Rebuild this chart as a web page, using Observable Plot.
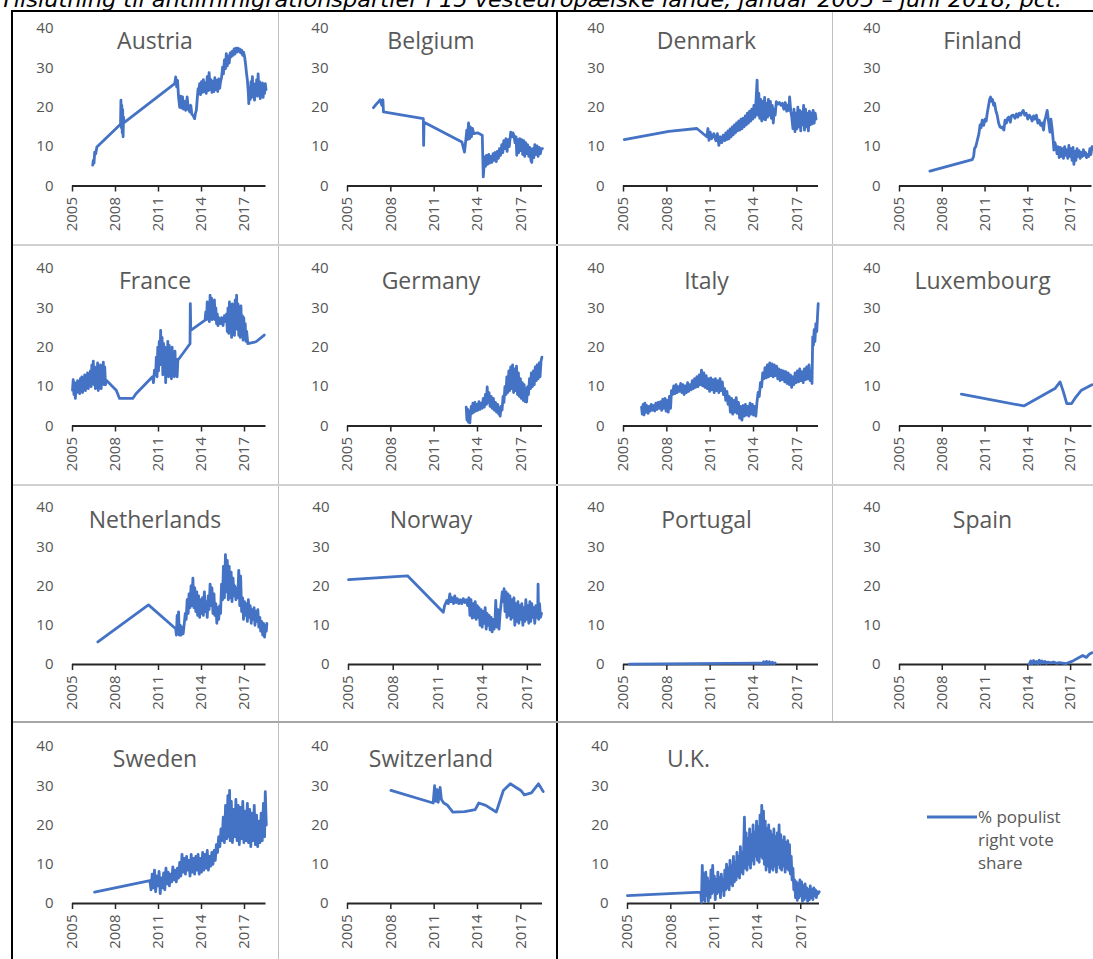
<!DOCTYPE html>
<html><head><meta charset="utf-8">
<script src="https://cdn.jsdelivr.net/npm/d3@7"></script>
<script src="https://cdn.jsdelivr.net/npm/@observablehq/plot@0.6"></script>
<style>
html,body{margin:0;padding:0;background:#fff;}
#wrap{position:relative;width:1093px;height:959px;overflow:hidden;background:#fff;font-family:"Open Sans",sans-serif;}
.ln{position:absolute;}
.panel{position:absolute;}
.panel svg{overflow:visible;}
</style></head><body><div id="wrap"></div>
<script>
const titleText = "Tilslutning til antiimmigrationspartier i 15 vesteuropæiske lande, januar 2005 – juni 2018, pct.";
const legendLines = ["% populist", "right vote", "share"];
const yearTicks = [2005, 2008, 2011, 2014, 2017];
const valueTicks = [0, 10, 20, 30, 40];
const countries = ["Austria","Belgium","Denmark","Finland","France","Germany","Italy","Luxembourg","Netherlands","Norway","Portugal","Spain","Sweden","Switzerland","U.K."];

const austria = [[2006.41,5.3],[2006.45,6.5],[2006.5,5.8],[2006.55,8.6],[2006.62,8.2],[2006.7,9.9],[2008.35,15.7],[2008.38,21.8],[2008.41,14.8],[2008.44,20.5],[2008.47,13.5],[2008.5,19.4],[2008.53,12.5],[2008.56,17.5],[2008.6,16.1],[2012.13,26.0],[2012.2,27.7],[2012.27,25.2],[2012.33,26.8],[2012.4,22.5],[2012.48,20.0],[2012.55,22.8],[2012.62,19.8],[2012.68,22.6],[2012.75,19.5],[2012.83,21.5],[2012.9,19.2],[2013.0,22.6],[2013.08,19.5],[2013.18,18.8],[2013.25,20.5],[2013.33,18.2],[2013.41,18.0],[2013.47,17.5],[2013.52,17.1],[2013.58,18.5],[2013.64,19.2],[2013.7,22.0],[2013.76,24.7],[2013.8,23.5],[2013.87,26.0],[2013.93,23.2],[2014.0,26.5],[2014.07,23.8],[2014.13,27.0],[2014.2,24.0],[2014.27,26.2],[2014.33,23.5],[2014.4,27.8],[2014.47,24.2],[2014.53,28.8],[2014.6,24.5],[2014.67,27.0],[2014.73,23.8],[2014.8,26.5],[2014.87,24.0],[2014.93,27.5],[2015.0,24.5],[2015.07,26.8],[2015.13,24.0],[2015.2,27.2],[2015.27,24.8],[2015.33,26.5],[2015.4,27.5],[2015.47,30.2],[2015.53,28.5],[2015.6,32.0],[2015.67,29.8],[2015.73,33.6],[2015.8,30.5],[2015.87,33.0],[2015.93,31.2],[2016.0,33.8],[2016.07,32.8],[2016.13,34.2],[2016.2,33.2],[2016.27,34.8],[2016.33,33.5],[2016.4,35.0],[2016.47,34.0],[2016.53,35.0],[2016.6,34.2],[2016.67,34.8],[2016.73,33.8],[2016.8,34.5],[2016.87,33.2],[2016.93,34.0],[2017.0,33.0],[2017.07,31.1],[2017.13,29.0],[2017.2,26.9],[2017.27,23.5],[2017.3,20.9],[2017.35,24.5],[2017.4,22.0],[2017.45,26.5],[2017.5,22.5],[2017.55,27.8],[2017.6,23.0],[2017.65,26.0],[2017.7,21.8],[2017.75,25.5],[2017.8,23.2],[2017.85,27.0],[2017.9,22.8],[2017.95,28.5],[2018.0,23.5],[2018.05,26.5],[2018.1,22.2],[2018.15,25.8],[2018.2,23.0],[2018.25,26.2],[2018.3,22.5],[2018.35,25.0],[2018.4,23.5],[2018.45,26.0],[2018.5,24.5]];

const belgium = [[2006.8,19.9],[2006.95,20.6],[2007.15,21.4],[2007.26,21.9],[2007.38,20.5],[2007.45,21.9],[2007.49,18.8],[2010.25,17.1],[2010.27,10.3],[2010.3,16.2],[2012.92,11.2],[2013.1,8.6],[2013.2,12.0],[2013.26,14.2],[2013.3,11.8],[2013.38,16.0],[2013.45,12.0],[2013.5,15.0],[2013.58,12.5],[2013.65,14.6],[2013.75,13.3],[2014.0,13.5],[2014.33,12.9],[2014.4,2.3],[2014.45,4.8],[2014.5,7.4],[2014.55,5.0],[2014.62,7.8],[2014.7,5.5],[2014.78,8.0],[2014.85,5.8],[2014.92,7.5],[2015.0,6.0],[2015.08,8.2],[2015.15,6.5],[2015.22,8.5],[2015.3,6.2],[2015.37,8.8],[2015.45,7.0],[2015.52,9.5],[2015.6,7.8],[2015.68,10.5],[2015.75,8.5],[2015.82,11.5],[2015.9,9.5],[2015.97,12.0],[2016.05,8.8],[2016.12,11.8],[2016.2,10.0],[2016.3,13.7],[2016.38,12.5],[2016.45,13.5],[2016.52,12.9],[2016.6,11.0],[2016.67,12.5],[2016.72,7.8],[2016.78,11.8],[2016.85,8.5],[2016.92,12.0],[2017.0,9.0],[2017.07,11.8],[2017.13,8.0],[2017.2,11.5],[2017.27,7.5],[2017.33,11.0],[2017.4,8.2],[2017.47,10.5],[2017.55,7.5],[2017.62,9.8],[2017.7,6.5],[2017.76,6.0],[2017.82,9.5],[2017.9,7.2],[2017.97,10.5],[2018.05,8.0],[2018.12,10.2],[2018.2,7.5],[2018.27,9.8],[2018.35,8.2],[2018.42,9.5],[2018.5,9.5]];

const denmark = [[2005.05,11.8],[2008.14,13.9],[2010.08,14.6],[2010.77,12.5],[2010.85,14.6],[2010.92,11.6],[2011.0,13.7],[2011.1,12.0],[2011.25,13.3],[2011.4,11.5],[2011.5,13.3],[2011.6,10.3],[2011.7,12.5],[2011.8,11.0],[2011.9,12.9],[2012.0,11.5],[2012.08,13.5],[2012.15,11.8],[2012.23,14.0],[2012.3,12.0],[2012.38,14.5],[2012.45,12.5],[2012.53,15.0],[2012.6,13.0],[2012.68,15.5],[2012.75,13.5],[2012.83,16.0],[2012.9,14.0],[2012.98,16.5],[2013.05,14.2],[2013.13,17.0],[2013.2,14.5],[2013.28,17.2],[2013.35,15.0],[2013.43,17.8],[2013.5,15.5],[2013.58,18.5],[2013.65,16.0],[2013.73,19.0],[2013.8,16.5],[2013.88,19.5],[2013.95,17.0],[2014.03,20.5],[2014.1,17.5],[2014.18,22.0],[2014.25,26.9],[2014.3,18.0],[2014.37,23.5],[2014.43,17.2],[2014.5,22.0],[2014.57,16.5],[2014.63,21.5],[2014.7,17.0],[2014.77,22.5],[2014.83,16.8],[2014.9,21.0],[2014.97,17.5],[2015.03,22.0],[2015.1,18.0],[2015.17,21.5],[2015.23,17.2],[2015.3,20.5],[2015.37,16.0],[2015.43,19.5],[2015.5,18.0],[2015.58,21.4],[2015.7,20.8],[2015.8,21.2],[2015.9,20.5],[2016.0,21.0],[2016.1,19.5],[2016.2,21.2],[2016.3,19.0],[2016.38,20.5],[2016.45,19.2],[2016.5,22.6],[2016.58,19.0],[2016.65,17.5],[2016.73,14.6],[2016.8,19.5],[2016.87,13.8],[2016.93,18.5],[2017.0,14.5],[2017.07,20.0],[2017.13,15.0],[2017.2,19.2],[2017.27,14.0],[2017.33,18.8],[2017.4,15.5],[2017.47,20.5],[2017.53,14.2],[2017.6,19.5],[2017.67,15.0],[2017.73,18.5],[2017.8,14.0],[2017.87,19.0],[2017.93,15.5],[2018.0,18.5],[2018.07,15.8],[2018.13,19.2],[2018.2,16.0],[2018.27,18.5],[2018.33,17.0]];

const finland = [[2007.13,3.8],[2010.1,6.7],[2010.2,7.5],[2010.26,9.5],[2010.35,10.0],[2010.45,11.5],[2010.57,13.3],[2010.65,15.5],[2010.72,14.8],[2010.8,16.7],[2010.9,15.4],[2011.0,17.0],[2011.08,16.5],[2011.15,18.4],[2011.25,20.5],[2011.32,22.0],[2011.39,22.6],[2011.45,21.5],[2011.52,22.0],[2011.6,20.5],[2011.67,21.0],[2011.75,19.2],[2011.85,18.0],[2011.95,16.0],[2012.05,15.0],[2012.15,14.8],[2012.2,15.0],[2012.32,14.2],[2012.4,16.7],[2012.5,16.0],[2012.58,17.2],[2012.67,17.5],[2012.77,16.2],[2012.85,17.8],[2012.98,18.0],[2013.1,17.2],[2013.2,18.3],[2013.3,17.5],[2013.4,18.5],[2013.5,18.0],[2013.6,18.8],[2013.68,19.2],[2013.78,18.0],[2013.88,18.5],[2014.0,17.0],[2014.1,18.0],[2014.2,17.5],[2014.3,16.5],[2014.4,17.8],[2014.5,17.0],[2014.6,18.0],[2014.7,16.0],[2014.8,16.7],[2014.9,15.4],[2015.0,16.0],[2015.1,14.2],[2015.17,16.5],[2015.25,17.5],[2015.36,19.2],[2015.45,16.5],[2015.55,13.7],[2015.62,17.0],[2015.7,14.6],[2015.77,12.0],[2015.83,9.1],[2015.9,11.0],[2016.0,9.5],[2016.05,8.2],[2016.12,10.0],[2016.2,7.2],[2016.28,9.8],[2016.35,7.5],[2016.43,9.5],[2016.5,7.0],[2016.58,10.0],[2016.65,7.8],[2016.73,9.2],[2016.8,7.0],[2016.88,10.3],[2016.95,7.5],[2017.03,9.5],[2017.1,6.5],[2017.17,9.8],[2017.23,5.5],[2017.3,8.8],[2017.37,6.5],[2017.45,9.5],[2017.52,7.5],[2017.6,9.0],[2017.67,7.0],[2017.75,8.5],[2017.82,7.5],[2017.9,9.2],[2017.97,7.8],[2018.05,8.5],[2018.12,7.2],[2018.2,8.0],[2018.27,7.5],[2018.35,9.5],[2018.42,8.0],[2018.5,10.0]];

const france = [[2005.0,9.1],[2005.05,11.8],[2005.1,8.0],[2005.15,11.0],[2005.2,7.0],[2005.25,10.5],[2005.3,8.5],[2005.35,11.5],[2005.4,9.0],[2005.45,10.0],[2005.5,8.2],[2005.55,12.0],[2005.6,9.5],[2005.65,12.5],[2005.7,8.5],[2005.75,11.8],[2005.8,10.0],[2005.85,13.0],[2005.9,9.0],[2005.95,12.5],[2006.0,10.0],[2006.05,13.5],[2006.1,9.5],[2006.15,12.8],[2006.2,10.5],[2006.25,14.0],[2006.3,10.0],[2006.35,15.5],[2006.4,11.0],[2006.45,16.5],[2006.5,10.5],[2006.55,15.0],[2006.6,9.5],[2006.65,14.0],[2006.7,10.0],[2006.75,16.0],[2006.8,9.0],[2006.85,13.5],[2006.9,10.5],[2006.95,15.5],[2007.0,9.5],[2007.05,14.0],[2007.1,11.0],[2007.15,16.2],[2007.2,10.5],[2007.25,15.0],[2007.3,10.5],[2007.36,11.6],[2008.05,9.1],[2008.28,7.0],[2009.2,7.0],[2009.43,8.2],[2010.58,12.5],[2010.65,11.0],[2010.72,14.2],[2010.8,13.0],[2010.85,17.5],[2010.9,12.5],[2010.95,20.0],[2011.0,14.0],[2011.05,21.5],[2011.1,15.5],[2011.15,24.3],[2011.2,16.0],[2011.25,22.5],[2011.3,13.0],[2011.35,21.0],[2011.4,15.0],[2011.45,20.0],[2011.5,11.0],[2011.55,19.5],[2011.6,14.5],[2011.65,21.5],[2011.7,12.5],[2011.75,20.5],[2011.8,15.0],[2011.85,18.5],[2011.9,12.0],[2011.95,20.0],[2012.0,14.0],[2012.05,17.5],[2012.1,12.5],[2012.15,19.0],[2012.2,13.5],[2012.25,17.0],[2012.3,12.5],[2012.35,16.7],[2013.2,20.9],[2013.22,31.1],[2013.25,24.3],[2014.25,26.9],[2014.3,29.0],[2014.35,27.0],[2014.4,31.5],[2014.45,27.5],[2014.5,30.0],[2014.55,26.5],[2014.6,33.2],[2014.65,28.0],[2014.7,32.5],[2014.75,27.0],[2014.8,31.0],[2014.85,28.5],[2014.9,32.0],[2014.95,27.0],[2015.0,30.0],[2015.05,26.0],[2015.1,28.5],[2015.15,25.5],[2015.2,27.5],[2015.3,26.0],[2015.4,27.5],[2015.5,25.5],[2015.6,28.0],[2015.7,26.5],[2015.75,28.5],[2015.8,24.0],[2015.85,30.0],[2015.9,23.5],[2015.95,31.5],[2016.0,25.0],[2016.05,29.5],[2016.1,22.5],[2016.15,31.0],[2016.2,24.0],[2016.25,30.0],[2016.3,23.0],[2016.35,32.0],[2016.4,25.0],[2016.45,33.2],[2016.5,24.5],[2016.55,31.0],[2016.6,23.0],[2016.65,29.0],[2016.7,22.5],[2016.75,30.5],[2016.8,24.0],[2016.85,28.0],[2016.9,21.8],[2016.95,27.5],[2017.0,22.5],[2017.05,26.0],[2017.1,21.5],[2017.15,24.0],[2017.23,20.9],[2017.8,21.4],[2018.38,23.1]];

const germany = [[2013.22,4.8],[2013.27,1.5],[2013.32,4.2],[2013.37,1.0],[2013.42,3.8],[2013.47,0.8],[2013.52,3.5],[2013.57,5.0],[2013.62,3.2],[2013.68,5.8],[2013.75,3.5],[2013.82,6.0],[2013.88,3.8],[2013.95,5.5],[2014.02,4.0],[2014.1,6.2],[2014.17,4.2],[2014.25,5.8],[2014.32,4.5],[2014.4,7.0],[2014.47,4.8],[2014.55,8.0],[2014.62,5.5],[2014.67,9.9],[2014.72,6.0],[2014.8,8.5],[2014.87,5.0],[2014.95,7.5],[2015.02,4.5],[2015.1,7.0],[2015.17,4.0],[2015.25,6.0],[2015.32,3.5],[2015.4,5.5],[2015.47,3.0],[2015.53,4.5],[2015.57,2.5],[2015.63,5.0],[2015.7,4.0],[2015.77,7.5],[2015.83,6.0],[2015.9,10.0],[2015.97,8.0],[2016.03,12.5],[2016.1,8.5],[2016.17,14.0],[2016.23,9.0],[2016.3,15.0],[2016.37,9.5],[2016.43,15.5],[2016.5,8.5],[2016.57,14.5],[2016.63,9.0],[2016.7,15.2],[2016.77,8.0],[2016.83,13.5],[2016.9,7.5],[2016.97,12.0],[2017.03,7.0],[2017.1,11.0],[2017.17,6.5],[2017.23,10.5],[2017.3,6.2],[2017.37,9.5],[2017.4,6.1],[2017.47,10.0],[2017.53,8.0],[2017.6,12.0],[2017.67,9.5],[2017.73,13.5],[2017.8,10.0],[2017.87,14.0],[2017.93,10.5],[2018.0,15.0],[2018.07,11.5],[2018.13,15.5],[2018.2,12.0],[2018.27,16.0],[2018.33,12.5],[2018.4,16.5],[2018.46,17.5]];

const italy = [[2006.25,4.8],[2006.3,3.0],[2006.36,5.5],[2006.42,2.8],[2006.48,5.8],[2006.55,3.5],[2006.62,5.2],[2006.7,3.2],[2006.78,5.0],[2006.85,3.8],[2006.92,5.5],[2007.0,4.0],[2007.08,5.2],[2007.16,3.8],[2007.24,5.8],[2007.32,4.2],[2007.4,6.0],[2007.48,4.5],[2007.56,6.2],[2007.64,4.0],[2007.72,6.8],[2007.8,4.5],[2007.88,7.0],[2007.95,3.8],[2008.03,6.5],[2008.1,3.5],[2008.18,7.5],[2008.26,4.5],[2008.32,9.0],[2008.4,8.0],[2008.48,10.2],[2008.56,8.2],[2008.64,10.5],[2008.72,8.5],[2008.8,10.0],[2008.88,8.8],[2008.96,10.8],[2009.04,8.5],[2009.12,10.5],[2009.2,8.0],[2009.28,10.2],[2009.36,8.5],[2009.44,11.0],[2009.52,8.8],[2009.6,10.5],[2009.68,9.2],[2009.76,11.5],[2009.84,9.5],[2009.92,12.0],[2010.0,9.8],[2010.08,12.5],[2010.16,10.0],[2010.24,13.0],[2010.32,10.5],[2010.4,14.2],[2010.48,10.2],[2010.56,13.5],[2010.64,9.8],[2010.72,12.8],[2010.8,9.5],[2010.88,12.0],[2010.96,8.8],[2011.04,12.2],[2011.12,9.2],[2011.2,11.8],[2011.28,8.5],[2011.36,12.0],[2011.44,9.0],[2011.52,11.5],[2011.6,8.5],[2011.68,12.0],[2011.76,9.0],[2011.84,11.2],[2011.92,8.0],[2012.0,9.5],[2012.08,6.5],[2012.16,8.8],[2012.24,5.5],[2012.32,7.5],[2012.4,3.5],[2012.48,7.0],[2012.56,3.0],[2012.64,6.5],[2012.72,3.5],[2012.8,7.2],[2012.88,3.2],[2012.96,6.0],[2013.04,2.0],[2013.12,5.0],[2013.2,1.5],[2013.28,5.2],[2013.36,2.5],[2013.44,5.5],[2013.52,2.8],[2013.6,5.0],[2013.68,2.5],[2013.76,5.8],[2013.84,3.0],[2013.92,5.5],[2014.0,2.8],[2014.08,5.0],[2014.16,2.5],[2014.24,6.0],[2014.32,8.5],[2014.4,7.5],[2014.48,11.0],[2014.56,9.9],[2014.64,13.5],[2014.72,12.0],[2014.8,14.8],[2014.88,12.2],[2014.96,15.5],[2015.04,12.5],[2015.12,16.0],[2015.2,12.8],[2015.28,15.8],[2015.36,12.5],[2015.44,15.5],[2015.52,12.8],[2015.6,15.2],[2015.68,12.0],[2015.76,14.5],[2015.84,11.5],[2015.92,14.2],[2016.0,11.8],[2016.08,14.0],[2016.16,11.2],[2016.24,13.8],[2016.32,10.8],[2016.4,13.5],[2016.48,10.5],[2016.56,13.0],[2016.64,9.8],[2016.72,12.5],[2016.8,10.5],[2016.88,13.5],[2016.96,11.0],[2017.04,14.0],[2017.12,11.2],[2017.2,14.5],[2017.28,11.5],[2017.36,13.8],[2017.44,11.0],[2017.52,14.5],[2017.6,11.8],[2017.68,15.0],[2017.76,12.0],[2017.84,15.5],[2017.92,11.5],[2018.0,14.0],[2018.05,10.8],[2018.1,22.6],[2018.15,20.5],[2018.2,24.5],[2018.25,21.5],[2018.32,26.0],[2018.38,24.0],[2018.44,28.5],[2018.48,31.1]];

const luxembourg = [[2009.34,8.1],[2013.72,5.1],[2015.9,9.5],[2016.26,11.2],[2016.5,8.6],[2016.73,5.7],[2017.07,5.7],[2017.3,7.0],[2017.76,9.1],[2018.5,10.5]];

const netherlands = [[2006.77,5.75],[2010.3,15.2],[2012.2,9.1],[2012.25,7.5],[2012.3,12.5],[2012.35,8.0],[2012.4,13.4],[2012.45,7.5],[2012.52,10.0],[2012.58,7.5],[2012.65,9.5],[2012.72,7.8],[2012.8,10.5],[2012.87,13.0],[2012.93,11.5],[2013.0,16.5],[2013.07,13.0],[2013.13,18.0],[2013.2,14.5],[2013.27,20.0],[2013.33,15.0],[2013.4,22.0],[2013.47,14.5],[2013.53,19.5],[2013.6,13.5],[2013.67,18.5],[2013.73,12.5],[2013.8,17.5],[2013.87,12.0],[2013.93,16.5],[2014.0,13.0],[2014.07,17.0],[2014.13,12.5],[2014.2,18.5],[2014.27,13.5],[2014.33,16.0],[2014.4,12.0],[2014.47,17.5],[2014.53,14.0],[2014.6,20.5],[2014.67,15.0],[2014.73,19.5],[2014.8,13.0],[2014.87,18.0],[2014.93,12.5],[2015.0,15.5],[2015.07,10.5],[2015.13,14.5],[2015.2,11.5],[2015.27,15.0],[2015.33,13.0],[2015.4,20.5],[2015.47,16.5],[2015.53,25.0],[2015.6,17.0],[2015.67,28.0],[2015.73,18.5],[2015.8,26.5],[2015.87,16.5],[2015.93,25.0],[2016.0,17.0],[2016.07,23.5],[2016.13,16.0],[2016.2,22.0],[2016.27,17.5],[2016.33,20.0],[2016.4,16.5],[2016.47,19.5],[2016.53,17.0],[2016.6,24.0],[2016.67,15.0],[2016.73,22.5],[2016.8,13.5],[2016.87,17.0],[2016.93,11.5],[2017.0,16.0],[2017.07,12.5],[2017.13,15.5],[2017.2,11.0],[2017.27,16.5],[2017.33,12.0],[2017.4,15.0],[2017.47,10.5],[2017.53,14.0],[2017.6,11.5],[2017.67,14.5],[2017.73,10.0],[2017.8,13.5],[2017.87,11.0],[2017.93,14.0],[2018.0,9.5],[2018.07,12.0],[2018.13,8.5],[2018.2,11.0],[2018.27,7.5],[2018.33,10.5],[2018.4,7.0],[2018.47,10.0],[2018.52,8.5],[2018.56,10.5]];

const norway = [[2005.0,21.6],[2008.96,22.6],[2011.36,13.3],[2011.45,15.0],[2011.6,16.3],[2011.7,15.5],[2011.8,18.0],[2011.88,16.0],[2011.96,17.0],[2012.05,15.5],[2012.13,17.5],[2012.22,15.8],[2012.3,16.8],[2012.4,15.5],[2012.5,16.5],[2012.6,15.5],[2012.7,16.8],[2012.8,15.8],[2012.9,16.5],[2013.0,15.0],[2013.08,17.0],[2013.15,12.5],[2013.22,16.5],[2013.3,11.8],[2013.37,15.5],[2013.44,12.0],[2013.5,16.0],[2013.57,11.5],[2013.64,15.0],[2013.7,12.0],[2013.76,14.5],[2013.83,10.0],[2013.9,14.0],[2013.97,9.5],[2014.04,13.5],[2014.1,10.5],[2014.17,14.5],[2014.24,9.0],[2014.3,13.0],[2014.37,10.0],[2014.44,12.5],[2014.5,8.8],[2014.57,12.0],[2014.64,8.3],[2014.7,11.5],[2014.77,9.0],[2014.84,12.0],[2014.88,16.3],[2014.95,9.5],[2015.02,14.0],[2015.1,9.0],[2015.17,13.0],[2015.24,15.5],[2015.32,18.5],[2015.38,16.0],[2015.44,19.3],[2015.5,13.5],[2015.57,18.5],[2015.63,12.0],[2015.7,18.0],[2015.77,12.5],[2015.83,17.5],[2015.9,11.5],[2015.97,16.5],[2016.03,12.0],[2016.1,17.0],[2016.16,10.0],[2016.23,15.5],[2016.3,11.0],[2016.37,16.0],[2016.43,10.5],[2016.5,15.0],[2016.57,11.5],[2016.63,15.5],[2016.7,10.0],[2016.77,14.5],[2016.83,11.0],[2016.9,16.5],[2016.97,11.5],[2017.03,15.0],[2017.1,10.5],[2017.17,16.0],[2017.23,11.0],[2017.3,15.5],[2017.37,12.0],[2017.43,14.5],[2017.5,10.5],[2017.57,15.0],[2017.63,12.0],[2017.7,14.0],[2017.72,20.5],[2017.76,11.5],[2017.82,15.5],[2017.88,12.0],[2017.95,13.0]];

const portugal = [[2005.4,0.1],[2014.5,0.35],[2014.6,0.1],[2014.7,0.7],[2014.8,0.1],[2014.9,0.8],[2015.0,0.1],[2015.1,0.7],[2015.2,0.2],[2015.3,0.6],[2015.4,0.2],[2015.5,0.4]];

const spain = [[2014.1,0.1],[2014.2,0.9],[2014.3,0.2],[2014.4,1.0],[2014.5,0.3],[2014.6,0.8],[2014.7,0.2],[2014.8,1.1],[2014.9,0.3],[2015.0,0.9],[2015.1,0.4],[2015.2,0.8],[2015.3,0.3],[2015.4,0.6],[2015.6,0.4],[2015.8,0.6],[2016.0,0.3],[2016.2,0.5],[2016.65,0.2],[2017.1,0.8],[2017.5,1.6],[2017.85,2.3],[2018.1,1.8],[2018.3,2.6],[2018.5,3.0]];

const sweden = [[2006.54,2.9],[2010.4,5.8],[2010.48,3.5],[2010.56,7.5],[2010.64,4.0],[2010.72,8.5],[2010.8,3.0],[2010.88,7.0],[2010.96,4.5],[2011.04,8.2],[2011.12,2.5],[2011.2,6.5],[2011.28,4.0],[2011.36,7.8],[2011.44,3.5],[2011.52,9.0],[2011.6,5.0],[2011.68,8.0],[2011.76,4.5],[2011.84,7.5],[2011.92,5.5],[2012.0,9.3],[2012.08,6.0],[2012.16,8.5],[2012.24,5.5],[2012.32,9.0],[2012.4,6.5],[2012.48,10.5],[2012.56,7.0],[2012.64,12.5],[2012.72,8.0],[2012.8,11.5],[2012.88,7.5],[2012.96,12.0],[2013.04,8.5],[2013.12,11.0],[2013.2,7.0],[2013.28,12.5],[2013.36,8.0],[2013.44,11.5],[2013.52,7.5],[2013.6,12.0],[2013.68,8.5],[2013.76,12.5],[2013.84,7.5],[2013.92,11.5],[2014.0,8.0],[2014.08,13.0],[2014.16,8.5],[2014.24,12.5],[2014.32,9.0],[2014.4,13.5],[2014.48,8.5],[2014.56,12.0],[2014.64,9.5],[2014.72,13.0],[2014.8,10.0],[2014.88,13.5],[2014.96,11.0],[2015.04,15.0],[2015.12,13.0],[2015.2,17.0],[2015.28,14.5],[2015.36,19.0],[2015.44,16.0],[2015.52,22.0],[2015.6,15.5],[2015.68,25.0],[2015.76,16.5],[2015.84,27.5],[2015.92,17.0],[2015.96,28.8],[2016.0,16.0],[2016.08,26.0],[2016.16,15.5],[2016.24,24.0],[2016.32,17.0],[2016.4,26.5],[2016.48,16.0],[2016.56,25.0],[2016.64,15.0],[2016.72,24.5],[2016.8,16.5],[2016.88,26.0],[2016.96,15.5],[2017.04,23.5],[2017.12,16.0],[2017.2,25.5],[2017.28,15.5],[2017.36,24.0],[2017.44,14.5],[2017.52,23.0],[2017.6,16.0],[2017.68,25.0],[2017.76,15.0],[2017.84,22.5],[2017.92,14.5],[2018.0,21.0],[2018.08,15.5],[2018.16,23.0],[2018.24,16.0],[2018.32,25.5],[2018.4,17.0],[2018.45,28.5],[2018.52,20.0]];

const switzerland = [[2008.01,28.8],[2010.93,25.6],[2011.03,30.0],[2011.12,26.0],[2011.2,29.0],[2011.28,25.8],[2011.41,29.6],[2011.5,26.5],[2011.66,25.6],[2011.9,25.1],[2012.29,23.3],[2013.11,23.4],[2013.84,23.9],[2014.09,25.6],[2014.57,25.0],[2015.3,23.3],[2015.79,28.8],[2016.27,30.5],[2017.0,28.8],[2017.24,27.7],[2017.73,28.2],[2018.22,30.5],[2018.55,28.5]];

const uk = [[2005.0,2.0],[2010.08,2.9],[2010.12,0.3],[2010.18,9.7],[2010.24,1.0],[2010.3,7.5],[2010.36,0.5],[2010.42,8.0],[2010.48,2.0],[2010.54,6.5],[2010.6,0.5],[2010.66,5.5],[2010.72,1.5],[2010.78,8.5],[2010.84,2.5],[2010.9,9.7],[2010.96,3.0],[2011.02,7.0],[2011.08,1.0],[2011.14,6.0],[2011.2,2.5],[2011.26,8.0],[2011.32,3.0],[2011.38,6.5],[2011.44,1.5],[2011.5,7.5],[2011.56,3.5],[2011.62,6.0],[2011.68,2.0],[2011.74,8.5],[2011.8,3.5],[2011.86,10.0],[2011.92,4.0],[2011.98,9.0],[2012.04,3.5],[2012.1,11.0],[2012.16,5.0],[2012.22,9.5],[2012.28,4.5],[2012.34,12.0],[2012.4,5.5],[2012.46,10.5],[2012.52,6.0],[2012.58,13.0],[2012.64,7.0],[2012.7,12.0],[2012.76,6.5],[2012.82,14.5],[2012.88,8.0],[2012.94,13.0],[2013.0,7.5],[2013.06,16.0],[2013.1,22.0],[2013.16,9.0],[2013.22,18.0],[2013.28,8.5],[2013.34,16.5],[2013.4,10.0],[2013.46,19.0],[2013.52,9.0],[2013.58,17.5],[2013.64,11.0],[2013.7,20.0],[2013.76,10.0],[2013.82,18.0],[2013.88,12.0],[2013.94,21.0],[2014.0,11.0],[2014.06,19.5],[2014.12,10.5],[2014.18,22.5],[2014.24,12.0],[2014.3,25.0],[2014.36,11.5],[2014.42,23.5],[2014.48,10.0],[2014.54,21.0],[2014.6,8.5],[2014.66,19.0],[2014.72,9.5],[2014.78,20.0],[2014.84,8.0],[2014.9,18.5],[2014.96,9.0],[2015.02,17.5],[2015.08,8.5],[2015.14,19.0],[2015.2,9.5],[2015.26,17.0],[2015.32,8.0],[2015.38,18.0],[2015.44,10.0],[2015.5,20.0],[2015.56,9.0],[2015.62,17.5],[2015.68,8.5],[2015.74,16.0],[2015.8,9.5],[2015.86,17.0],[2015.92,8.0],[2015.98,15.5],[2016.04,9.0],[2016.1,16.0],[2016.16,8.5],[2016.22,15.0],[2016.28,7.5],[2016.34,12.0],[2016.4,6.0],[2016.46,9.0],[2016.52,3.5],[2016.58,6.0],[2016.64,1.5],[2016.7,5.5],[2016.76,0.8],[2016.82,5.0],[2016.88,1.5],[2016.94,6.0],[2017.0,2.0],[2017.06,5.5],[2017.12,0.5],[2017.18,4.5],[2017.24,1.0],[2017.3,5.0],[2017.36,1.5],[2017.42,4.0],[2017.48,0.5],[2017.54,3.5],[2017.6,1.0],[2017.66,4.5],[2017.72,1.5],[2017.78,3.5],[2017.84,1.0],[2017.9,4.0],[2017.96,2.0],[2018.02,3.5],[2018.08,1.5],[2018.14,3.0],[2018.2,2.5],[2018.28,3.0]];

const seriesList = [austria, belgium, denmark, finland, france, germany, italy, luxembourg, netherlands, norway, portugal, spain, sweden, switzerland, uk];

// ---- layout ----
const BLUE = "#4472C4", GREY_TXT = "#595959";
const colL = [12, 278, 557, 832], colR = [278, 557, 832, 1093];
const colX0 = [72, 347, 623, 899], colX1 = [265.5, 542, 818, 1091.5];
const titleCx = [154.5, 430.5, 706, 982];
const rowY40 = [28, 268, 507, 746], rowY0 = [185.5, 425.5, 664, 903];
const overrides = {
  "Norway": {x0: 348, x1: 541, end: 2017.95},
  "U.K.": {x0: 627, x1: 819, end: 2018.3, tx: 688}
};

const wrap = document.getElementById("wrap");
function box(l, t, w, h, c) {
  const d = document.createElement("div");
  d.className = "ln";
  Object.assign(d.style, {left: l + "px", top: t + "px", width: w + "px", height: h + "px", background: c});
  wrap.appendChild(d);
}

// title (cut off at the top edge, as in the reference)
const ns = "http://www.w3.org/2000/svg";
const tsvg = document.createElementNS(ns, "svg");
tsvg.setAttribute("width", 1093); tsvg.setAttribute("height", 12);
tsvg.style.position = "absolute"; tsvg.style.left = "0px"; tsvg.style.top = "0px";
const tt = document.createElementNS(ns, "text");
tt.setAttribute("x", 0); tt.setAttribute("y", 6.5);
tt.setAttribute("font-family", "DejaVu Sans"); tt.setAttribute("font-style", "italic");
tt.setAttribute("font-size", 21); tt.setAttribute("fill", "#000");
tt.setAttribute("textLength", 1062); tt.setAttribute("lengthAdjust", "spacingAndGlyphs");
tt.textContent = titleText;
tsvg.appendChild(tt);
wrap.appendChild(tsvg);

countries.forEach((name, i) => {
  const col = i % 4, row = Math.floor(i / 4);
  const o = overrides[name] || {};
  const x0 = o.x0 ?? colX0[col], x1 = o.x1 ?? colX1[col];
  const end = o.end ?? 2018.5;
  const tx = o.tx ?? titleCx[col];
  const L = colL[col], W = colR[col] - colL[col];
  const mt = 25, ph = rowY0[row] - rowY40[row], mb = 60;
  const H = mt + ph + mb;
  const svg = Plot.plot({
    width: W, height: H,
    marginLeft: x0 - L, marginRight: W - (x1 - L), marginTop: mt, marginBottom: mb,
    style: {background: "transparent", fontFamily: "'Open Sans', sans-serif", fontSize: "15px", overflow: "visible"},
    x: {domain: [2005, end]},
    y: {domain: [0, 40]},
    marks: [
      Plot.axisY(valueTicks, {tickSize: 0, tickPadding: 19, fill: "#555", fontSize: 15, label: null, tickFormat: d => String(d)}),
      Plot.axisX(yearTicks, {tickSize: 6, tickPadding: 5, tickRotate: -90, stroke: "#262626", strokeWidth: 1.5, fill: "#555", fontSize: 15, label: null, tickFormat: d => String(d)}),
      Plot.ruleY([0], {stroke: "#262626", strokeWidth: 2}),
      Plot.line(seriesList[i], {x: d => d[0], y: d => d[1], stroke: BLUE, strokeWidth: 2.8}),
      Plot.text([name], {text: d => d, frameAnchor: "top-left", dx: tx - x0, dy: 4, textAnchor: "middle", fontSize: 23, fill: GREY_TXT})
    ]
  });
  const holder = document.createElement("div");
  holder.className = "panel";
  holder.style.left = L + "px";
  holder.style.top = (rowY40[row] - mt) + "px";
  holder.appendChild(svg);
  wrap.appendChild(holder);
});

// grid lines
box(12, 10, 1081, 2, "#000");
box(11, 10, 2, 949, "#000");
box(556, 10, 2, 949, "#000");
box(278, 12, 1, 947, "#bfbfbf");
box(832, 12, 1, 710, "#bfbfbf");
box(13, 244, 1080, 1.5, "#d0d0d0");
box(13, 484, 1080, 1.5, "#d0d0d0");
box(13, 721, 1080, 1.5, "#a6a6a6");

// legend
const lg = document.createElementNS(ns, "svg");
lg.setAttribute("width", 170); lg.setAttribute("height", 80);
lg.style.position = "absolute"; lg.style.left = "920px"; lg.style.top = "800px";
const ll = document.createElementNS(ns, "line");
ll.setAttribute("x1", 7); ll.setAttribute("x2", 57); ll.setAttribute("y1", 17); ll.setAttribute("y2", 17);
ll.setAttribute("stroke", BLUE); ll.setAttribute("stroke-width", 2.8);
lg.appendChild(ll);
legendLines.forEach((s, k) => {
  const t = document.createElementNS(ns, "text");
  t.setAttribute("x", 58); t.setAttribute("y", 17 + k * 23);
  t.setAttribute("dy", "0.35em");
  t.setAttribute("font-family", "Open Sans"); t.setAttribute("font-size", 17);
  t.setAttribute("fill", GREY_TXT);
  t.textContent = s;
  lg.appendChild(t);
});
wrap.appendChild(lg);
</script></body></html>
